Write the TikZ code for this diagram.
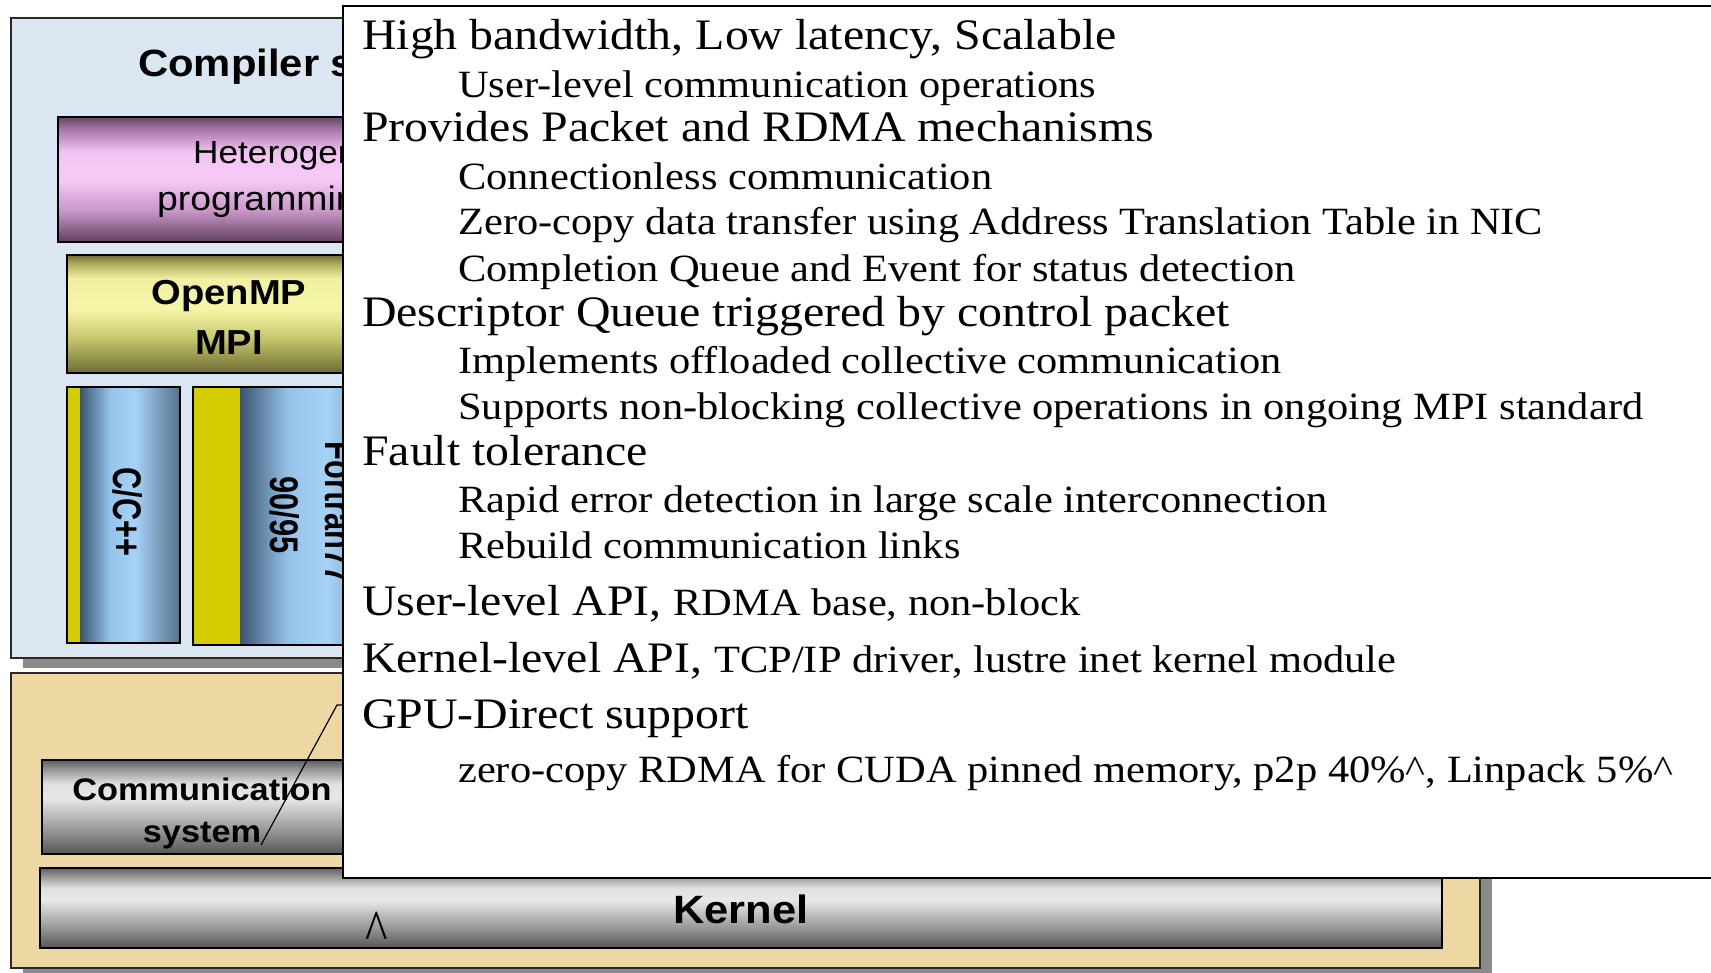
\documentclass[tikz,border=0pt]{standalone}
\usepackage{fontspec}
\setmainfont{Liberation Serif}
\newfontfamily\serifwide[FakeStretch=1.1]{Liberation Serif}
\newfontfamily\sanswide[FakeStretch=1.1]{Liberation Sans}
\newfontfamily\sansnarrow[FakeStretch=0.77]{Liberation Sans}

% colours
\definecolor{panelblue}{RGB}{218,230,242}
\definecolor{panelsand}{RGB}{237,215,163}
\definecolor{paneledge}{RGB}{45,40,35}
\definecolor{shadowgrey}{RGB}{138,138,138}
\definecolor{stripyellow}{RGB}{214,205,0}
% grey bars (bottom to top)
\definecolor{gb0}{RGB}{85,85,85}
\definecolor{gb1}{RGB}{150,150,150}
\definecolor{gb2}{RGB}{232,232,232}
\definecolor{gb3}{RGB}{224,224,224}
\definecolor{gb4}{RGB}{150,150,150}
\definecolor{gb5}{RGB}{95,95,95}
% pink bar
\definecolor{pk0}{RGB}{95,65,95}
\definecolor{pk1}{RGB}{200,150,200}
\definecolor{pk2}{RGB}{246,202,246}
\definecolor{pk3}{RGB}{242,196,242}
\definecolor{pk4}{RGB}{170,120,170}
\definecolor{pk5}{RGB}{100,72,100}
% olive bar
\definecolor{ol0}{RGB}{108,108,50}
\definecolor{ol1}{RGB}{200,200,110}
\definecolor{ol2}{RGB}{246,246,168}
\definecolor{ol3}{RGB}{240,240,160}
\definecolor{ol4}{RGB}{170,170,90}
\definecolor{ol5}{RGB}{110,110,55}
% blue columns (left to right)
\definecolor{bl0}{RGB}{60,85,112}
\definecolor{bl1}{RGB}{150,195,235}
\definecolor{bl2}{RGB}{166,210,246}
\definecolor{bl3}{RGB}{85,112,140}

% axis shadings: the path spans 25bp..75bp of the 100bp shading
\pgfdeclareverticalshading{greybar}{100bp}{color(0bp)=(gb0); color(25bp)=(gb0); color(37.5bp)=(gb1); color(55bp)=(gb2); color(62.5bp)=(gb3); color(70bp)=(gb4); color(75bp)=(gb5); color(100bp)=(gb5)}
\pgfdeclareverticalshading{pinkbar}{100bp}{color(0bp)=(pk0); color(25bp)=(pk0); color(37.5bp)=(pk1); color(50bp)=(pk2); color(61bp)=(pk3); color(70bp)=(pk4); color(75bp)=(pk5); color(100bp)=(pk5)}
\pgfdeclareverticalshading{olivebar}{100bp}{color(0bp)=(ol0); color(25bp)=(ol0); color(40bp)=(ol1); color(52.5bp)=(ol2); color(65bp)=(ol3); color(71.5bp)=(ol4); color(75bp)=(ol5); color(100bp)=(ol5)}
\pgfdeclarehorizontalshading{bluecol}{100bp}{color(0bp)=(bl0); color(25bp)=(bl0); color(40bp)=(bl1); color(52.5bp)=(bl2); color(75bp)=(bl3); color(100bp)=(bl3)}

\tikzset{
  panel/.style={draw=paneledge, line width=1.2pt},
  barbox/.style={draw=black, line width=1.5pt},
  mainline/.style={anchor=base west, inner sep=0pt, font=\serifwide\fontsize{43.5}{48}\selectfont},
  subline/.style={anchor=base west, inner sep=0pt, font=\serifwide\fontsize{38.6}{44}\selectfont},
  boldlabel/.style={inner sep=0pt, anchor=base, font=\sanswide\bfseries\fontsize{34.7}{40}\selectfont},
  plainlabel/.style={inner sep=0pt, anchor=base west, font=\sanswide\fontsize{32}{36}\selectfont},
  columnlabel/.style={inner sep=0pt, anchor=base, rotate=-90, font=\sansnarrow\bfseries\fontsize{40}{44}\selectfont},
}
\newcommand{\subsize}{\fontsize{38.6}{44}\selectfont}

\begin{document}
\begin{tikzpicture}[x=1pt,y=-1pt]
\useasboundingbox (0,0) rectangle (1711,973);
\clip (0,0) rectangle (1711,973);
\fill[white] (0,0) rectangle (1711,973);

% upper panel: compiler stack
\fill[shadowgrey] (23,28) rectangle (1492,668);
\filldraw[panel, fill=panelblue] (11,18) rectangle (1480,658);
% lower panel: operating system
\fill[shadowgrey] (23,683) rectangle (1492,985);
\filldraw[panel, fill=panelsand] (11,673) rectangle (1480,968);

\node[anchor=base west, inner sep=0pt, font=\sanswide\bfseries\fontsize{38}{44}\selectfont] (compiler) at (138,77) {Compiler s};

% heterogeneous programming bar
\path[shading=pinkbar] (58,117) rectangle (620,242);
\draw[barbox] (58,117) rectangle (620,242);
\node[plainlabel] (het1) at (193,164) {Heterogen};
\node[plainlabel, font=\sanswide\fontsize{34}{38}\selectfont] (het2) at (157,211) {programming};

% OpenMP / MPI bar
\path[shading=olivebar] (67,255) rectangle (392,373);
\draw[barbox] (67,255) rectangle (392,373);
\node[boldlabel] (omp) at (229,305) {OpenMP};
\node[boldlabel] (mpi) at (229,355) {MPI};

% language columns
\fill[stripyellow] (67,387) rectangle (80,643);
\path[shading=bluecol] (80,387) rectangle (180,643);
\draw[barbox] (67,387) rectangle (180,643);
\node[columnlabel] (cpp) at (113,512) {C/C++};

\fill[stripyellow] (193,387) rectangle (240,645);
\path[shading=bluecol] (240,387) rectangle (400,645);
\draw[barbox] (193,387) rectangle (400,645);
\node[columnlabel] (f77) at (325,513) {Fortran77};
\node[columnlabel] (f90) at (270,515) {90/95};

% communication system bar
\path[shading=greybar] (42,760) rectangle (362,854);
\draw[barbox] (42,760) rectangle (362,854);
\node[boldlabel, font=\sanswide\bfseries\fontsize{31.2}{36}\selectfont] (comm1) at (202,800) {Communication};
\node[boldlabel, font=\sanswide\bfseries\fontsize{31.2}{36}\selectfont] (comm2) at (202,842) {system};

% kernel bar
\path[shading=greybar] (40,868) rectangle (1442,948);
\draw[barbox] (40,868) rectangle (1442,948);
\node[boldlabel, font=\sanswide\bfseries\fontsize{39.5}{44}\selectfont] (kernel) at (741,923) {Kernel};

% callout with feature list
\node[draw=black, line width=1.8pt, fill=white, minimum width=1420pt, minimum height=871.5pt, inner sep=0pt, anchor=north west] (callout) at (342,5.5) {};

\node[mainline] (l1)  at (362,50)  {High bandwidth, Low latency, Scalable};
\node[subline]  (l2)  at (458,98)  {User-level communication operations};
\node[mainline] (l3)  at (362,142) {Provides Packet and RDMA mechanisms};
\node[subline]  (l4)  at (458,190) {Connectionless communication};
\node[subline]  (l5)  at (458,235) {Zero-copy data transfer using Address Translation Table in NIC};
\node[subline]  (l6)  at (458,282) {Completion Queue and Event for status detection};
\node[mainline] (l7)  at (362,327) {Descriptor Queue triggered by control packet};
\node[subline]  (l8)  at (458,374) {Implements offloaded collective communication};
\node[subline]  (l9)  at (458,420) {Supports non-blocking collective operations in ongoing MPI standard};
\node[mainline] (l10) at (362,465) {Fault tolerance};
\node[subline]  (l11) at (458,512) {Rapid error detection in large scale interconnection};
\node[subline]  (l12) at (458,558) {Rebuild communication links};
\node[mainline] (l13) at (362,615) {User-level API, {\subsize RDMA base, non-block}};
\node[mainline] (l14) at (362,672) {Kernel-level API, {\subsize TCP/IP driver, lustre inet kernel module}};
\node[mainline] (l15) at (362,728) {GPU-Direct support};
\node[subline]  (l16) at (458,782) {zero-copy RDMA for CUDA pinned memory, p2p 40\%\textasciicircum, Linpack 5\%\textasciicircum};

% callout pointer into the communication system bar
\coordinate (tip) at (261,845);
\coordinate (knee) at (337,705);
\draw[line width=1.2pt] (tip) -- (knee) -- (knee -| callout.west);

\node[mainline, anchor=base] (caret) at (377,950) {\scalebox{1}[1.35]{\textasciicircum}};
\end{tikzpicture}
\end{document}
